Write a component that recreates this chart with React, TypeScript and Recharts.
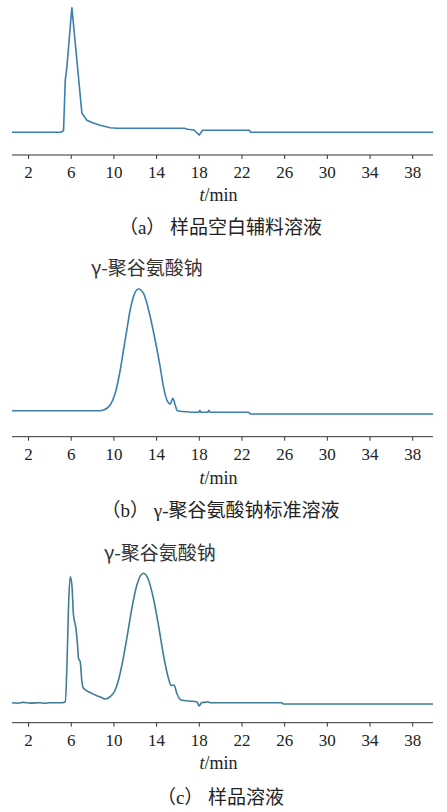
import { LineChart, Line, XAxis, YAxis } from "recharts";

// retention time (min) / detector response
const aTime = [0.45, 5.0, 5.2, 5.28, 5.44, 5.6, 6.06, 7.0, 7.47, 8.0, 8.71, 9.65, 10.28, 16.6, 16.9, 17.5, 18.0, 18.3, 22.7, 22.8, 39.9];
const aSignal = [0, 0, 1, 2, 52, 66, 125, 19, 12, 9.5, 7, 4.5, 4, 4, 3, 2.3, -2.7, 2, 2, 0, 0];

const bTime = [0.45, 8.7, 9.02, 9.65, 10.12, 10.59, 10.9, 11.21, 11.52, 11.83, 12.3, 12.77, 13.09, 13.4, 13.86, 14.33, 14.64, 14.96, 15.27, 15.52, 15.74, 15.95, 16.83, 17.0, 17.1, 17.95, 18.05, 18.15, 18.8, 18.9, 19.0, 22.6, 22.8, 39.9];
const bSignal = [0, 0, 0.7, 5.7, 17.4, 40.7, 60.7, 80.7, 100.7, 114, 121.7, 117.4, 107.4, 94, 70.7, 44, 24, 10.7, 6.7, 12.4, 5.7, 0, -1, -1, -1.5, -1.5, 0.5, -1.5, -1.5, 0.3, -1.5, -1.5, -3.3, -3.3];

const cTime = [0.45, 1.0, 1.5, 2.2, 3.0, 3.6, 4.0, 5.2, 5.44, 5.6, 5.75, 5.9, 6.06, 6.21, 6.44, 6.59, 6.68, 6.84, 7.0, 7.15, 7.62, 8.25, 8.87, 9.18, 9.65, 10.12, 10.43, 10.75, 11.21, 11.68, 12.15, 12.77, 13.24, 13.7, 14.17, 14.64, 15.11, 15.36, 15.64, 15.89, 16.3, 16.98, 17.77, 18.0, 18.2, 18.6, 18.8, 19.0, 25.7, 25.9, 39.9];
const cSignal = [0, -0.5, 0.3, -0.4, 0, -0.5, 0, 0, 1, 37.7, 97.7, 126, 117.7, 87.7, 74.4, 57.7, 44.4, 41, 21, 14.4, 11, 7.7, 5, 3.7, 6, 12.7, 22.7, 37.7, 64.4, 94.4, 117.7, 129.4, 122.7, 104.4, 77.7, 47.7, 24.4, 17, 17.7, 9.4, 2.7, 1.7, 1, -3.3, 0, 0.5, 1, 0, 0, -1.3, -1.3];

const timeTicks = [2, 6, 10, 14, 18, 22, 26, 30, 34, 38];
const captions = ["（a） 样品空白辅料溶液", "（b） γ-聚谷氨酸钠标准溶液", "（c） 样品溶液"];
const peakName = "γ-聚谷氨酸钠";

const toRows = (t: number[], v: number[]) => t.map((x, i) => ({ t: x, v: v[i] }));

const serif = '"Liberation Serif", "Times New Roman", serif';
const cjk = '"Liberation Serif", "Noto Sans CJK SC", sans-serif';

type PanelProps = {
  data: { t: number; v: number }[];
  top: number;
  axisY: number;
  baseline: number;
  color: string;
  curve: "linear" | "monotone";
};

const Panel = ({ data, top, axisY, baseline, color, curve }: PanelProps) => {
  const h = axisY - top;
  return (
    <div style={{ position: "absolute", left: 0, top }}>
      <LineChart width={447} height={h + 30} data={data} margin={{ top: 0, right: 14, left: 12, bottom: 0 }}>
        <XAxis
          type="number"
          dataKey="t"
          domain={[0.45, 39.9]}
          ticks={timeTicks}
          interval={0}
          allowDataOverflow
          height={30}
          tickSize={4}
          tickMargin={7}
          stroke="#333"
          tick={{ fill: "#222", fontSize: 17, fontFamily: serif }}
        />
        <YAxis hide domain={[baseline - axisY, baseline - top]} allowDataOverflow />
        <Line type={curve} dataKey="v" stroke={color} strokeWidth={1.6} dot={false} isAnimationActive={false} />
      </LineChart>
    </div>
  );
};

const TimeLabel = ({ cy }: { cy: number }) => (
  <div style={{ position: "absolute", left: 0, width: 437, top: cy - 11, lineHeight: "22px", textAlign: "center", fontFamily: serif, fontSize: 18, color: "#222" }}>
    <i>t</i>/min
  </div>
);

const Caption = ({ cy, text }: { cy: number; text: string }) => (
  <div style={{ position: "absolute", left: 0, width: 441, top: cy - 13, lineHeight: "26px", textAlign: "center", fontFamily: cjk, fontSize: 19, color: "#222", whiteSpace: "pre" }}>
    {text}
  </div>
);

const PeakLabel = ({ x, cy }: { x: number; cy: number }) => (
  <div style={{ position: "absolute", left: x, top: cy - 13, lineHeight: "26px", fontFamily: '"Noto Sans CJK SC", sans-serif', fontSize: 19, color: "#333", whiteSpace: "pre" }}>
    {peakName}
  </div>
);

export default function App() {
  return (
    <div style={{ position: "absolute", left: 0, top: 0, width: 447, height: 812, background: "#fff" }}>
      <Panel data={toRows(aTime, aSignal)} top={5} axisY={155} baseline={132.3} color="#3a7fb0" curve="linear" />
      <TimeLabel cy={195} />
      <Caption cy={228} text={captions[0]} />

      <PeakLabel x={91} cy={266.7} />
      <Panel data={toRows(bTime, bSignal)} top={280} axisY={436.7} baseline={410.7} color="#3a7fb0" curve="monotone" />
      <TimeLabel cy={478} />
      <Caption cy={511} text={captions[1]} />

      <PeakLabel x={104} cy={551.7} />
      <Panel data={toRows(cTime, cSignal)} top={565} axisY={722.7} baseline={702.7} color="#3d7d96" curve="monotone" />
      <TimeLabel cy={763.3} />
      <Caption cy={798.3} text={captions[2]} />
    </div>
  );
}
